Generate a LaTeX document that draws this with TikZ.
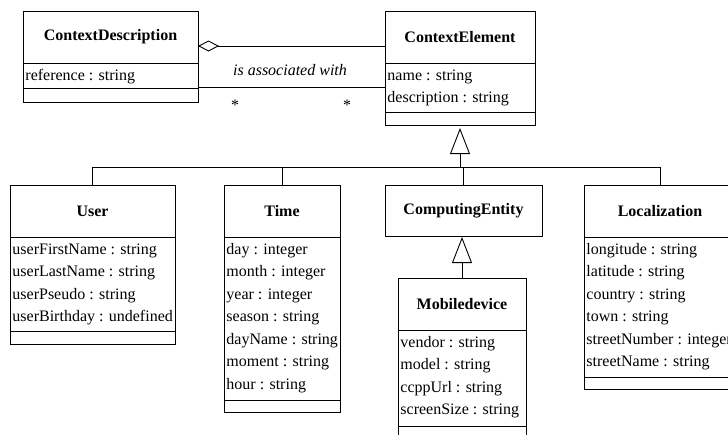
\documentclass[tikz,border=0pt]{standalone}
\usepackage{fontspec}
\setmainfont{Liberation Serif}
\usetikzlibrary{arrows.meta}
\begin{document}
\begin{tikzpicture}[x=1pt,y=-1pt,line width=0.9pt,
  box/.style={draw,rectangle,inner sep=0pt,outer sep=0pt,anchor=north west},
  ttl/.style={font=\fontsize{16}{19}\selectfont\bfseries,inner sep=0pt},
  attr/.style={font=\fontsize{16}{19}\selectfont,inner sep=0pt,anchor=base west},
  lbl/.style={font=\fontsize{16}{19}\selectfont\itshape,inner sep=0pt},
  mult/.style={font=\fontsize{16}{19}\selectfont,inner sep=0pt,anchor=base},
  gen/.style={-{Triangle[open,length=26pt,width=20pt]}},
  agg/.style={{Diamond[open,length=21pt,width=11pt]}-}]
\useasboundingbox (0,0) rectangle (728,434);
\clip (0,0) rectangle (728,434);
\fill[white] (0,0) rectangle (728,434);

% ContextDescription
\node[box,minimum width=175pt,minimum height=91pt] (cd) at (23,11) {};
\node[ttl] (cdt) at (110.5,37) {ContextDescription};
\draw (cd.west |- 0,63) -- (cd.east |- 0,63);
\draw (cd.west |- 0,88) -- (cd.east |- 0,88);
\node[attr] (cd1) at (25,80) {reference : string};

% ContextElement
\node[box,minimum width=150pt,minimum height=114pt] (ce) at (385,11) {};
\node[ttl] (cet) at (460,37) {ContextElement};
\draw (ce.west |- 0,63) -- (ce.east |- 0,63);
\draw (ce.west |- 0,112) -- (ce.east |- 0,112);
\node[attr] (ce1) at (387,80) {name : string};
\node[attr] (ce2) at (387,102.5) {description : string};

% User
\node[box,minimum width=165pt,minimum height=159pt] (user) at (10,185) {};
\node[ttl] (usert) at (92.5,211) {User};
\draw (user.west |- 0,237) -- (user.east |- 0,237);
\draw (user.west |- 0,331) -- (user.east |- 0,331);
\node[attr] (u1) at (12,254) {userFirstName : string};
\node[attr] (u2) at (12,276.5) {userLastName : string};
\node[attr] (u3) at (12,299) {userPseudo : string};
\node[attr] (u4) at (12,321.5) {userBirthday : undefined};

% Time
\node[box,minimum width=116pt,minimum height=227pt] (time) at (224,185) {};
\node[ttl] (timet) at (282,211) {Time};
\draw (time.west |- 0,237) -- (time.east |- 0,237);
\draw (time.west |- 0,400) -- (time.east |- 0,400);
\node[attr] (t1) at (226,254) {day : integer};
\node[attr] (t2) at (226,276.5) {month : integer};
\node[attr] (t3) at (226,299) {year : integer};
\node[attr] (t4) at (226,321.5) {season : string};
\node[attr] (t5) at (226,344) {dayName : string};
\node[attr] (t6) at (226,366.5) {moment : string};
\node[attr] (t7) at (226,389) {hour : string};

% ComputingEntity
\node[box,minimum width=157pt,minimum height=51pt] (comp) at (385,185) {};
\node[ttl] (compt) at (463.5,210.5) {ComputingEntity};

% Mobiledevice
\node[box,minimum width=128pt,minimum height=167pt] (mob) at (398,278) {};
\node[ttl] (mobt) at (462,304) {Mobiledevice};
\draw (mob.west |- 0,330) -- (mob.east |- 0,330);
\draw (mob.west |- 0,426) -- (mob.east |- 0,426);
\node[attr] (m1) at (400,347) {vendor : string};
\node[attr] (m2) at (400,369.5) {model : string};
\node[attr] (m3) at (400,392) {ccppUrl : string};
\node[attr] (m4) at (400,414.5) {screenSize : string};

% Localization
\node[box,minimum width=152pt,minimum height=204pt] (loc) at (584,185) {};
\node[ttl] (loct) at (660,211) {Localization};
\draw (loc.west |- 0,237) -- (loc.east |- 0,237);
\draw (loc.west |- 0,377) -- (loc.east |- 0,377);
\node[attr] (l1) at (586,254) {longitude : string};
\node[attr] (l2) at (586,276.5) {latitude : string};
\node[attr] (l3) at (586,299) {country : string};
\node[attr] (l4) at (586,321.5) {town : string};
\node[attr] (l5) at (586,344) {streetNumber : integer};
\node[attr] (l6) at (586,366.5) {streetName : string};

% association
\coordinate (a1) at (0,46);
\coordinate (a2) at (0,87);
\draw[agg] (cd.east |- a1) -- (ce.west |- a1);
\draw (cd.east |- a2) -- (ce.west |- a2);
\node[lbl] (assoc) at (290,70) {is associated with};
\node[mult] (s1) at (235,110) {*};
\node[mult] (s2) at (347,110) {*};

% generalization
\coordinate (bus) at (0,167);
\draw (user.north) |- (bus -| loc.north) -- (loc.north);
\draw (time.north) -- (time.north |- bus);
\draw (comp.north) -- (comp.north |- bus);
\draw[gen,shorten >=3pt] (ce.south |- bus) -- (ce.south);
\draw[gen,shorten >=1pt] (mob.north) -- (mob.north |- comp.south);
\end{tikzpicture}
\end{document}
